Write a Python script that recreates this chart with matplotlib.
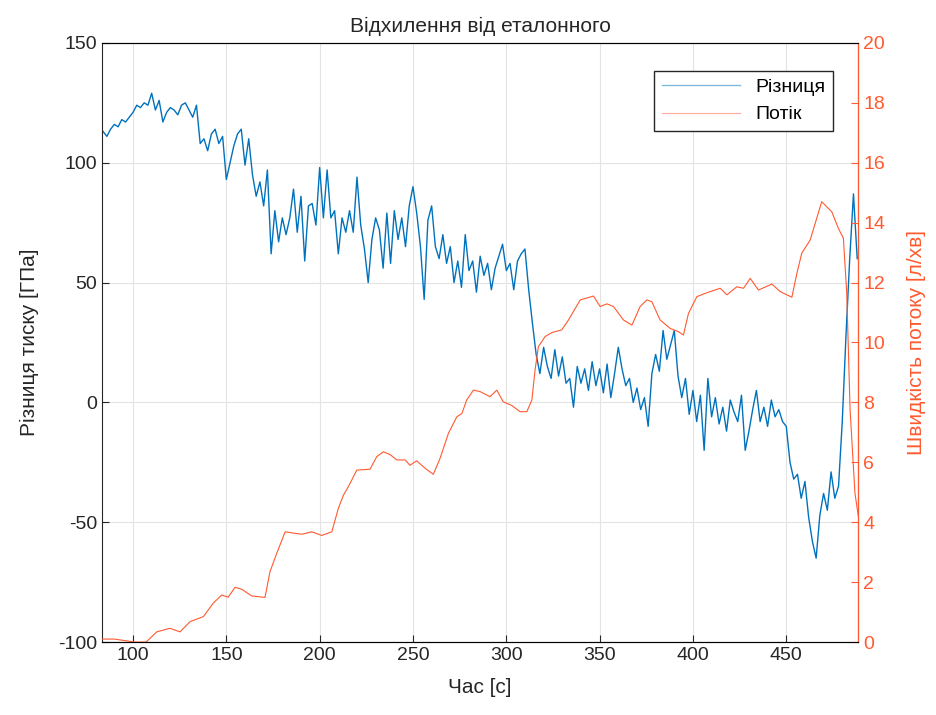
import matplotlib.pyplot as plt
import numpy as np

plt.rcParams['font.family'] = ['Liberation Sans', 'DejaVu Sans']
plt.rcParams['axes.unicode_minus'] = False

# різниця тиску, відліки кожні 2 с від 84 до 488 с
diff_t = np.arange(84, 489, 2)
diff_v = [113, 111, 114, 116, 115, 118, 117, 119, 121, 124,
          123, 125, 124, 129, 122, 126, 117, 121, 123, 122,
          120, 124, 125, 122, 119, 124, 108, 110, 105, 112,
          114, 108, 111, 93, 100, 107, 112, 114, 99, 110,
          95, 86, 92, 82, 97, 62, 80, 67, 77, 70,
          77, 89, 71, 86, 59, 82, 83, 74, 98, 77,
          97, 77, 80, 62, 77, 71, 80, 71, 94, 74,
          64, 50, 68, 77, 72, 56, 79, 58, 80, 68,
          77, 65, 82, 90, 79, 65, 43, 76, 82, 65,
          60, 70, 58, 65, 50, 59, 48, 70, 55, 59,
          46, 61, 53, 58, 47, 56, 61, 66, 55, 58,
          47, 59, 62, 64, 47, 33, 20, 12, 23, 15,
          10, 22, 11, 19, 8, 10, -2, 15, 8, 14,
          5, 17, 7, 14, 4, 16, 2, 12, 23, 14,
          7, 10, 0, 6, -3, 2, -10, 12, 20, 13,
          30, 18, 24, 30, 11, 2, 10, -5, 5, -8,
          3, -20, 10, -6, 2, -9, -2, -12, 1, -4,
          -8, 3, -20, -12, -3, 5, -8, -2, -10, 1,
          -6, -3, -8, -10, -25, -32, -30, -40, -33, -48,
          -58, -65, -47, -38, -45, -29, -40, -35, -8, 28,
          60, 87, 60]

# швидкість потоку
flow_t = [83.4, 90, 101, 107, 112.7, 119.8, 125.2, 130.5, 137.7, 143,
          147.5, 151, 154.7, 158.3, 163.6, 170.7, 173.4, 177, 181.5, 186.8,
          190.4, 195.8, 201.1, 206.5, 210, 212.7, 215.4, 219.9, 227, 230.6,
          234.1, 237.7, 241.3, 245.8, 248.4, 252, 256.5, 260.9, 264.5, 269,
          273.5, 276.2, 278.8, 282.4, 286, 291.3, 294.9, 298.4, 302.9, 307.4,
          311, 313.7, 315.4, 317.2, 320.8, 324.4, 329.7, 333.3, 339.6, 346.7,
          350.3, 353.9, 357.4, 362.8, 367.3, 371.7, 375.3, 378, 382.4, 387.8,
          392.2, 394.9, 397.6, 402.1, 407.4, 414.6, 418.2, 423.5, 427.1, 430.7,
          435.1, 442.3, 446.7, 453, 455.7, 458.3, 462.8, 469, 474.4, 478,
          480.6, 482.4, 484.2, 486.8, 488.6]
flow_v = [0.1, 0.1, 0.0, 0.0, 0.34, 0.46, 0.34, 0.68, 0.85, 1.3,
          1.57, 1.5, 1.83, 1.76, 1.54, 1.49, 2.35, 2.96, 3.68, 3.63,
          3.6, 3.68, 3.56, 3.68, 4.46, 4.9, 5.19, 5.74, 5.77, 6.19,
          6.35, 6.26, 6.08, 6.08, 5.9, 6.05, 5.8, 5.6, 6.13, 6.97,
          7.52, 7.63, 8.08, 8.41, 8.36, 8.19, 8.41, 8.02, 7.9, 7.69,
          7.69, 8.08, 9.08, 9.86, 10.2, 10.33, 10.42, 10.75, 11.42, 11.55,
          11.2, 11.29, 11.2, 10.75, 10.58, 11.2, 11.42, 11.36, 10.75, 10.47,
          10.36, 10.25, 10.97, 11.53, 11.66, 11.81, 11.59, 11.86, 11.81, 12.14,
          11.75, 11.95, 11.7, 11.51, 12.31, 12.98, 13.42, 14.7, 14.36, 13.8,
          13.48, 11.65, 7.75, 4.97, 4.2]

blue = '#0072BD'
orange = '#FF5A30'
dark = '#262626'

fig = plt.figure(figsize=(9.36, 7.15), dpi=100)
ax = fig.add_axes([0.109, 0.102, 0.808, 0.838])
ax2 = ax.twinx()

l1, = ax.plot(diff_t, diff_v, color=blue, lw=1.0, label='Різниця')
l2, = ax2.plot(flow_t, flow_v, color=orange, lw=0.8, label='Потік')

ax.set_xlim(83.4, 488.6)
ax.set_ylim(-100, 150)
ax2.set_ylim(0, 20)
ax.set_xticks(range(100, 451, 50))
ax.set_yticks(range(-100, 151, 50))
ax2.set_yticks(range(0, 21, 2))

ax.grid(True, color='#E3E3E3', lw=0.8)
ax.tick_params(direction='in', length=5, labelsize=14, colors=dark)
ax2.tick_params(direction='in', length=5, labelsize=14, colors=orange)
for s in ['left', 'top', 'bottom']:
    ax.spines[s].set_color(dark)
ax2.spines['right'].set_color(orange)
ax2.spines['left'].set_visible(False)

ax.set_title('Відхилення від еталонного', fontsize=15, color=dark, pad=8)
ax.set_xlabel('Час [с]', fontsize=15, color=dark, labelpad=10)
ax.set_ylabel('Різниця тиску [ГПа]', fontsize=15, color=dark, labelpad=14)
ax2.set_ylabel('Швидкість потоку [л/хв]', fontsize=15, color=orange, labelpad=16)

leg = ax2.legend([l1, l2], ['Різниця', 'Потік'], loc='upper right',
                 bbox_to_anchor=(0.98, 0.97), fontsize=14, fancybox=False,
                 framealpha=1, edgecolor=dark, handlelength=4)
for h in leg.get_lines():
    h.set_alpha(0.5)

plt.savefig('out.png', dpi=100)
